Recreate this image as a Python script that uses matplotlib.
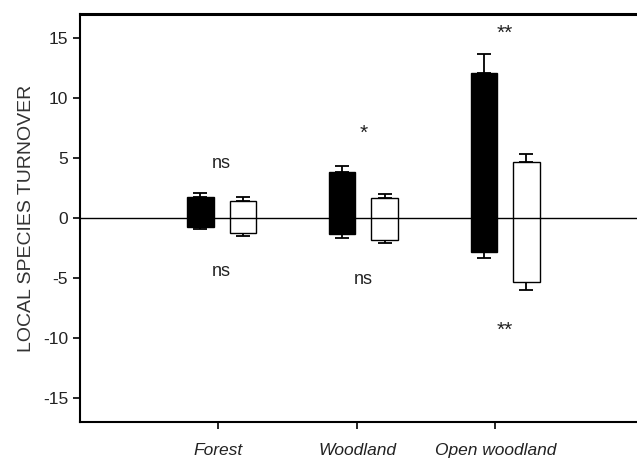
import matplotlib
matplotlib.use("Agg")
import matplotlib.pyplot as plt
import numpy as np

plt.rcParams['font.family'] = ['Liberation Sans', 'DejaVu Sans']
plt.rcParams['axes.unicode_minus'] = False

habitats = ["Forest", "Woodland", "Open woodland"]

# black bars: top / bottom of bar, and error caps
black_top = [1.77, 3.85, 12.08]
black_bot = [-0.72, -1.33, -2.80]
black_top_cap = [2.10, 4.32, 13.69]
black_bot_cap = [-0.92, -1.69, -3.35]

# white bars
white_top = [1.44, 1.69, 4.65]
white_bot = [-1.22, -1.83, -5.35]
white_top_cap = [1.72, 1.97, 5.32]
white_bot_cap = [-1.47, -2.10, -5.99]

# significance labels (upper = gains, lower = losses)
sig_upper = ["ns", "*", "**"]
sig_lower = ["ns", "ns", "**"]
sig_upper_y = [4.13, 6.6, 14.9]
sig_lower_y = [-4.82, -5.5, -9.84]


def draw_bars(ax, xs, top, bot, top_cap, bot_cap, color):
    top = np.array(top)
    bot = np.array(bot)
    ax.bar(xs, top - bot, bottom=bot, width=0.187, color=color,
           edgecolor="black", linewidth=1.0, zorder=3)
    ax.errorbar(xs, top, yerr=[np.zeros(3), np.array(top_cap) - top],
                fmt="none", ecolor="black", elinewidth=1.3, capsize=4.8,
                capthick=1.3, zorder=2)
    ax.errorbar(xs, bot, yerr=[bot - np.array(bot_cap), np.zeros(3)],
                fmt="none", ecolor="black", elinewidth=1.3, capsize=4.8,
                capthick=1.3, zorder=2)


fig = plt.figure(figsize=(6.37, 4.59), dpi=100)
ax = fig.add_axes([80 / 637, 37 / 459, 557 / 637, 408 / 459])

x = np.arange(len(habitats))
draw_bars(ax, x - 0.15, black_top, black_bot, black_top_cap, black_bot_cap, "black")
draw_bars(ax, x + 0.15, white_top, white_bot, white_top_cap, white_bot_cap, "white")

ax.axhline(0, color="black", linewidth=1.0, zorder=4)

for i in range(len(habitats)):
    for lab, yy in ((sig_upper[i], sig_upper_y[i]), (sig_lower[i], sig_lower_y[i])):
        fs = 15 if "*" in lab else 13
        ax.text(x[i], yy, lab, ha="center", va="baseline", fontsize=fs, color="#222222")

ax.set_xlim(-1.0, 2.93)
ax.set_ylim(-17, 17)
ax.set_yticks([-15, -10, -5, 0, 5, 10, 15])
ax.set_xticks([-0.025, 0.955, 1.93])
ax.set_xticklabels(habitats, style="italic", fontsize=12.5, color="#222222")
ax.tick_params(axis="y", labelsize=12.5, labelcolor="#222222", length=5, width=1.2, direction="out")
ax.tick_params(axis="x", length=5, width=1.2, direction="out", pad=10)
ax.set_ylabel("LOCAL SPECIES TURNOVER", fontsize=14, labelpad=6, color="#333333")

ax.spines["right"].set_visible(False)
ax.spines["left"].set_linewidth(1.5)
ax.spines["bottom"].set_linewidth(1.5)
ax.spines["top"].set_linewidth(2.2)

fig.savefig("out.png", dpi=100)
